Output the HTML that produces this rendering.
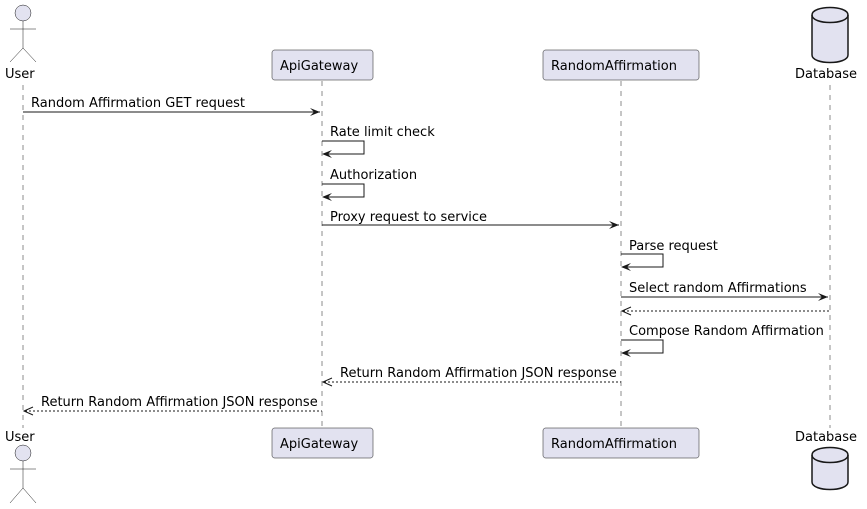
<!DOCTYPE html>
<html><head><style>body{margin:0;background:#fff}svg{display:block}</style></head><body>
<svg width="867" height="509" xmlns="http://www.w3.org/2000/svg" font-family="'DejaVu Sans', 'Liberation Sans', sans-serif" font-size="13">
<g stroke="#181818" stroke-width="0.5" stroke-dasharray="5,5">
<line x1="23" y1="85" x2="23" y2="428"/>
<line x1="322" y1="81" x2="322" y2="428"/>
<line x1="621" y1="81" x2="621" y2="428"/>
<line x1="830" y1="85" x2="830" y2="428"/>
</g>
<g fill="#E2E2F0" stroke="#181818" stroke-width="0.5">
<rect x="272" y="50" width="101" height="30" rx="2.5"/>
<rect x="543" y="50" width="156" height="30" rx="2.5"/>
<rect x="272" y="428" width="101" height="30" rx="2.5"/>
<rect x="543" y="428" width="156" height="30" rx="2.5"/>
</g>
<g fill="#000">
<text x="280" y="70">ApiGateway</text>
<text x="551" y="70">RandomAffirmation</text>
<text x="280" y="448">ApiGateway</text>
<text x="551" y="448">RandomAffirmation</text>
<text x="5" y="78">User</text>
<text x="5" y="441">User</text>
<text x="795" y="78">Database</text>
<text x="795" y="441">Database</text>
</g>
<g fill="#E2E2F0" stroke="#181818" stroke-width="0.5">
<circle cx="23" cy="13" r="8"/>
<path d="M23 21V48M10 29H36M10 62L23 48L36 62" fill="none"/>
<circle cx="23" cy="453" r="8"/>
<path d="M23 461V488M10 469H36M10 503L23 488L36 503" fill="none"/>
</g>
<g fill="#E2E2F0" stroke="#181818" stroke-width="1.5">
<path d="M812 15C812 5 848 5 848 15V55C848 65 812 65 812 55Z"/>
<path d="M812 15C812 25 848 25 848 15" fill="none"/>
<path d="M812 455C812 445 848 445 848 455V482C848 492 812 492 812 482Z"/>
<path d="M812 455C812 465 848 465 848 455" fill="none"/>
</g>
<g stroke="#181818" stroke-width="1" fill="none">
<line x1="23" y1="112" x2="320" y2="112"/>
<path d="M322 141H364V154H324"/>
<path d="M322 184H364V197H324"/>
<line x1="322" y1="225" x2="619" y2="225"/>
<path d="M621 254H663V267H623"/>
<line x1="621" y1="297" x2="828" y2="297"/>
<line x1="623" y1="311" x2="830" y2="311" stroke-dasharray="2,2"/>
<path d="M621 340H663V353H623"/>
<line x1="324" y1="382" x2="621" y2="382" stroke-dasharray="2,2"/>
<line x1="25" y1="411" x2="322" y2="411" stroke-dasharray="2,2"/>
</g>
<g fill="#181818">
<path d="M320 112l-10-4 4 4-4 4z"/>
<path d="M322 154l10-4-4 4 4 4z"/>
<path d="M322 197l10-4-4 4 4 4z"/>
<path d="M619 225l-10-4 4 4-4 4z"/>
<path d="M621 267l10-4-4 4 4 4z"/>
<path d="M828 297l-10-4 4 4-4 4z"/>
<path d="M621 353l10-4-4 4 4 4z"/>
</g>
<g stroke="#181818" fill="none" stroke-width="1">
<path d="M631 307l-9 4 9 4"/>
<path d="M332 378l-9 4 9 4"/>
<path d="M33 407l-9 4 9 4"/>
</g>
<g fill="#000">
<text x="31" y="107">Random Affirmation GET request</text>
<text x="330" y="136">Rate limit check</text>
<text x="330" y="179">Authorization</text>
<text x="330" y="221">Proxy request to service</text>
<text x="629" y="250">Parse request</text>
<text x="629" y="292">Select random Affirmations</text>
<text x="629" y="335">Compose Random Affirmation</text>
<text x="340" y="377">Return Random Affirmation JSON response</text>
<text x="41" y="406">Return Random Affirmation JSON response</text>
</g>
</svg>
</body></html>
